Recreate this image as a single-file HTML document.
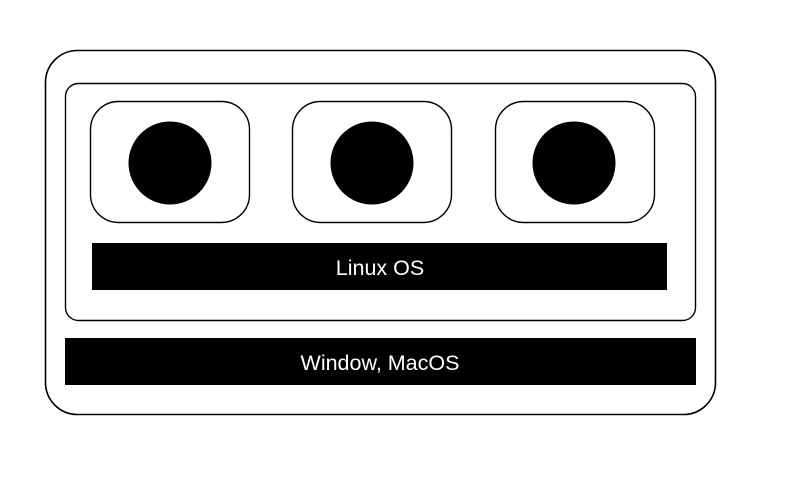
<!DOCTYPE html>
<html><head><style>body{margin:0;background:#fff}</style></head><body>
<svg width="800" height="491" xmlns="http://www.w3.org/2000/svg" font-family="Liberation Sans, sans-serif">
<rect x="45.5" y="50.5" width="670" height="364" rx="32" fill="none" stroke="#000" stroke-width="1.6"/>
<rect x="65.5" y="83.5" width="630" height="237" rx="13" fill="none" stroke="#000" stroke-width="1.4"/>
<rect x="90.5" y="101.5" width="159" height="121" rx="28" fill="none" stroke="#000" stroke-width="1.4"/>
<rect x="292.5" y="101.5" width="159" height="121" rx="28" fill="none" stroke="#000" stroke-width="1.4"/>
<rect x="495.5" y="101.5" width="159" height="121" rx="28" fill="none" stroke="#000" stroke-width="1.4"/>
<circle cx="170" cy="163" r="41.5"/>
<circle cx="372" cy="163" r="41.5"/>
<circle cx="574" cy="163" r="41.5"/>
<rect x="92" y="243" width="575" height="47" fill="#000"/>
<text x="380" y="275" fill="#fff" font-size="21.5" text-anchor="middle">Linux OS</text>
<rect x="65" y="338" width="631" height="47" fill="#000"/>
<text x="380" y="370" fill="#fff" font-size="21.5" text-anchor="middle">Window, MacOS</text>
</svg>
</body></html>
